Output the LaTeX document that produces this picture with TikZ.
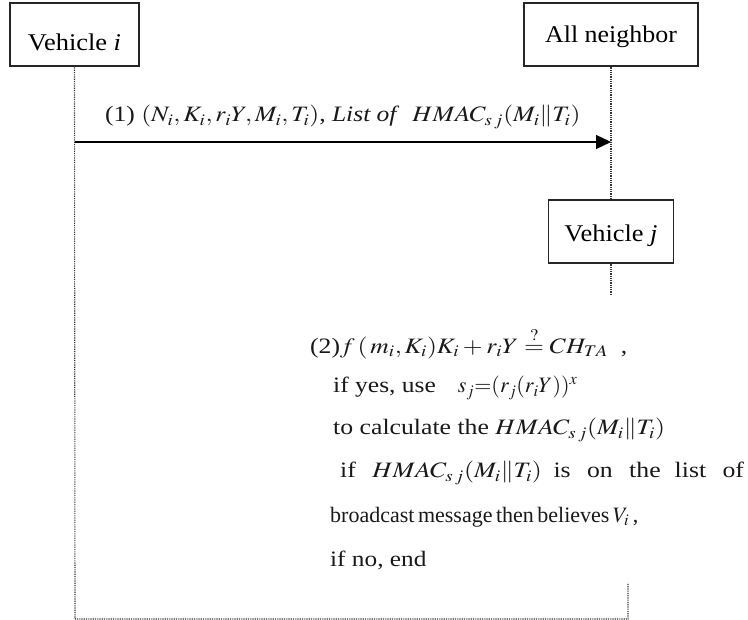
\documentclass[tikz,border=0pt]{standalone}
\usepackage{graphicx}
\usepackage{mathptmx}
\usepackage[no-math]{fontspec}
\setmainfont{Liberation Serif}
\usetikzlibrary{arrows.meta}
\tikzset{
  actor/.style={draw=black!85, line width=1.3pt, fill=white, minimum height=63pt, inner sep=0pt, text depth=0pt, font=\fontsize{24}{28}\selectfont},
  life/.style={draw=black!80, line width=1.1pt, dash pattern=on 0.9pt off 0.9pt},
  msg/.style={draw=black, line width=1.3pt, -{Triangle[length=15pt,width=14pt]}},
  txt/.style={anchor=west, inner sep=0pt, font=\fontsize{22}{26}\selectfont, text=black!90}
}
\newcommand{\hx}[2]{\scalebox{#1}[1]{#2}}
\begin{document}
\begin{tikzpicture}[x=1pt,y=-1pt]
\useasboundingbox (0,0) rectangle (748,620);
% actors
\node[actor, minimum width=129pt, text height=33pt] (vi) at (74.5,34.5) {\hx{1.1}{Vehicle \textit{i}}};
\node[actor, minimum width=174pt, text height=17pt] (an) at (611,34.5) {\hx{1.08}{All neighbor}};
\node[actor, minimum width=125pt, text height=21pt] (vj) at (611,231.5) {\hx{1.1}{Vehicle \textit{j}}};
% coordinates
\coordinate (a1) at (75,142);
\coordinate (a2) at (611,142);
\coordinate (bl) at (75,619);
\coordinate (br) at (628,619);
\coordinate (bt) at (628,583);
\coordinate (vjend) at (611,295);
% lifelines
\draw[life] (vi.south) -- (bl) -- (br) -- (bt);
\draw[life] (an.south) -- (vj.north);
\draw[life] (vj.south) -- (vjend);
% message
\draw[msg] (a1) -- (a2);
\node[txt] (m1) at (105,117) {\hx{1.16}{(1) $(N_i, K_i, r_iY, M_i, T_i)$, \textit{List of} \ $HMAC_{s\,j}(M_i\|T_i)$}};
% step 2
\node[txt] (l1) at (310,343) {\hx{1.165}{(2)$f\,(\,m_i,K_i)K_i + r_iY \stackrel{?}{=} CH_{TA}$\ \ ,}};
\node[txt] (l2) at (333,388) {\hx{1.16}{if yes, use}\hspace{22pt}$s_j{=}(r_j(r_iY))^x$};
\node[txt] (l3) at (333,430) {\hx{1.17}{to calculate the $HMAC_{s\,j}(M_i\|T_i)$}};
\node[txt] (l4) at (340,473) {\hx{1.17}{if\hspace{14pt}$HMAC_{s\,j}(M_i\|T_i)$\hspace{10pt}is\hspace{14pt}on\hspace{14pt}the\hspace{12pt}list\hspace{14pt}of}};
\node[txt] (l5) at (330,517) {\hx{1.0}{broadcast\hspace{3.5pt}message\hspace{3.5pt}then\hspace{3.5pt}believes\hspace{3.5pt}$V_i$\,,}};
\node[txt] (l6) at (330,560) {\hx{1.15}{if no, end}};
\end{tikzpicture}
\end{document}
